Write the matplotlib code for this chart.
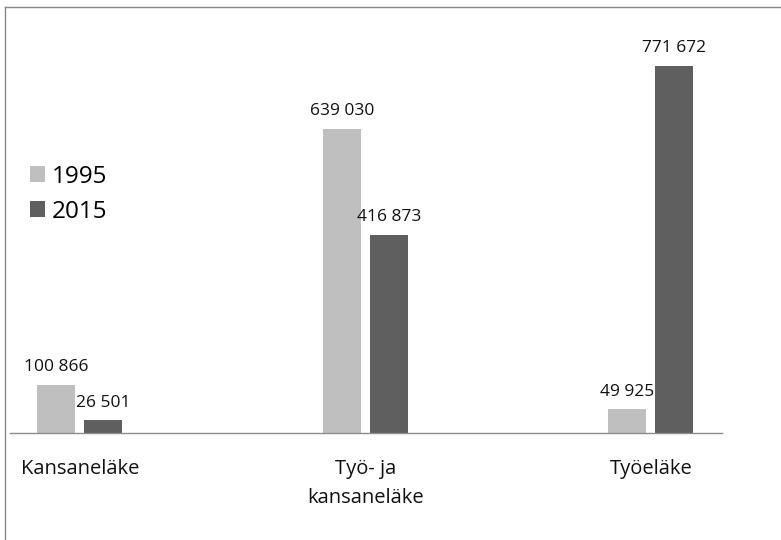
import matplotlib
matplotlib.use("Agg")
import matplotlib.pyplot as plt
from matplotlib.lines import Line2D
import numpy as np

categories = ["Kansaneläke", "Työ- ja\nkansaneläke", "Työeläke"]
series_names = ["1995", "2015"]
values_1995 = [100866, 639030, 49925]
values_2015 = [26501, 416873, 771672]
colors = ["#BFBFBF", "#5F5F5F"]

plt.rcParams["font.family"] = ["Open Sans", "DejaVu Sans"]

W, H = 781, 540
fig = plt.figure(figsize=(W / 100, H / 100), dpi=100)

# axes placed in pixel terms: baseline at y=433, spans x 10..722
left, right, base, top = 10, 722, 433, 20
ax = fig.add_axes([left / W, (H - base) / H, (right - left) / W, (base - top) / H])

px_per_unit = 367 / 771672
ymax = (base - top) / px_per_unit
ax.set_ylim(0, ymax)
ax.set_xlim(-0.245, 2.249)

x = np.arange(len(categories))
bw = 38 / 285.5
gap = 9 / 285.5
off = (bw + gap) / 2

b1 = ax.bar(x - off, values_1995, bw, color=colors[0], label=series_names[0])
b2 = ax.bar(x + off, values_2015, bw, color=colors[1], label=series_names[1])

def fmt(v):
    return f"{v:,}".replace(",", " ")

for bars, vals in ((b1, values_1995), (b2, values_2015)):
    for rect, v in zip(bars, vals):
        ax.annotate(fmt(v), (rect.get_x() + rect.get_width() / 2, v),
                    xytext=(0, 7), textcoords="offset points",
                    ha="center", va="bottom", fontsize=12.5, color="#111111")

for s in ("top", "right", "left"):
    ax.spines[s].set_visible(False)
ax.spines["bottom"].set_color("#8C8C8C")
ax.spines["bottom"].set_linewidth(1.0)
ax.set_yticks([])
ax.set_xticks(x)
ax.set_xticklabels(categories, fontsize=14.5, color="#111111", linespacing=1.55)
ax.tick_params(axis="x", length=0, pad=19)

leg = fig.legend(loc="upper left", bbox_to_anchor=(20 / W, 1 - 155 / H),
                 frameon=False, fontsize=17.5, handlelength=0.62, handleheight=0.62,
                 handletextpad=0.3, labelspacing=0.45, borderaxespad=0)

# outer chart frame
fig.add_artist(Line2D([4.5 / W, 4.5 / W], [0, 1 - 6.5 / H], transform=fig.transFigure,
                      color="#878787", lw=1.0))
fig.add_artist(Line2D([4.5 / W, 1], [1 - 6.5 / H, 1 - 6.5 / H], transform=fig.transFigure,
                      color="#878787", lw=1.0))

fig.savefig("out.png", dpi=100, facecolor="white")
